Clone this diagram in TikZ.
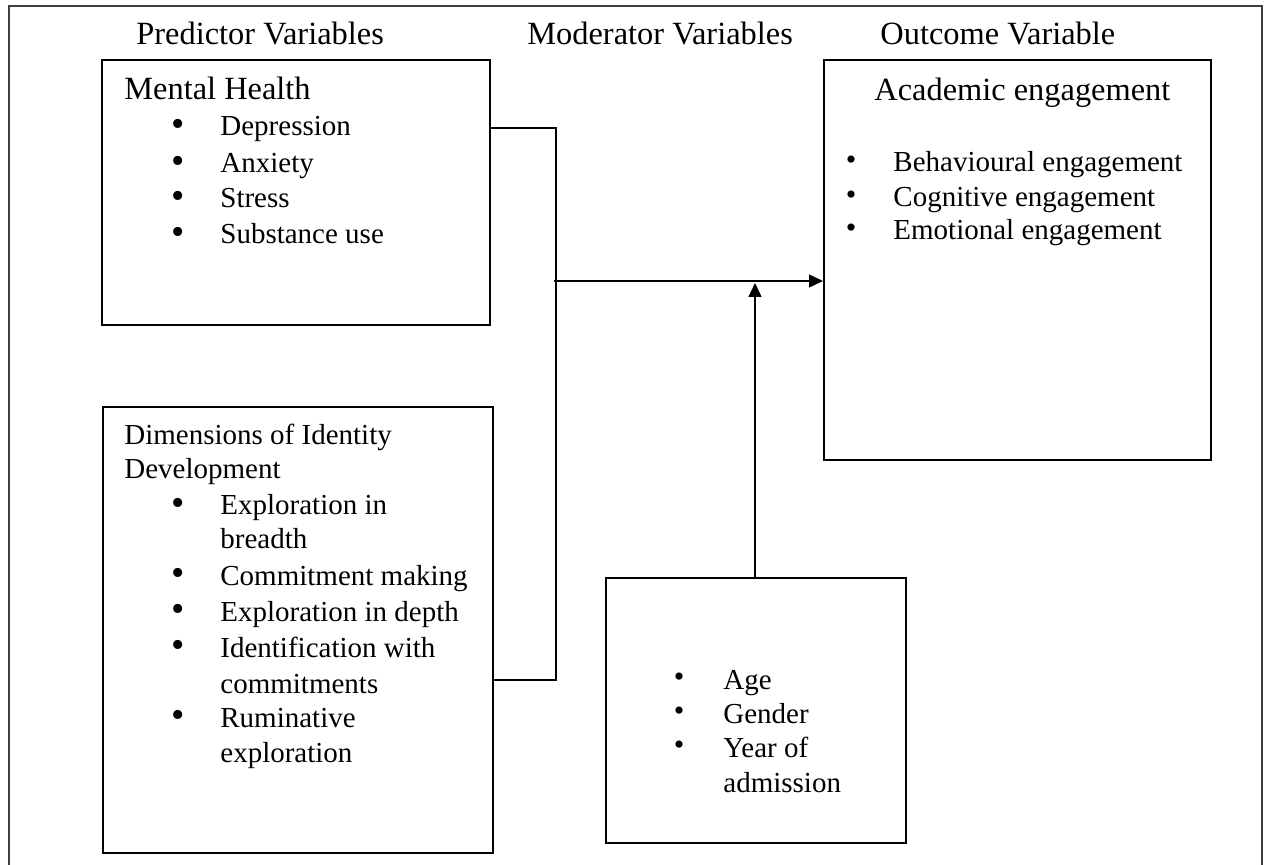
\documentclass[tikz,border=0pt]{standalone}
\usepackage{fontspec}
\setmainfont{Liberation Serif}
\usetikzlibrary{arrows.meta}
\begin{document}
\begin{tikzpicture}[x=0.5pt,y=-0.5pt,
  head/.style={anchor=base west,inner sep=0pt,font=\fontsize{16.2}{18}\selectfont},
  txt/.style={anchor=base west,inner sep=0pt,font=\fontsize{14.5}{17}\selectfont},
  bigbul/.style={anchor=center,inner sep=0pt,font=\fontsize{19}{20}\selectfont},
  smallbul/.style={anchor=center,inner sep=0pt,font=\fontsize{15}{16}\selectfont},
  box/.style={draw,line width=1pt,inner sep=0pt},
  conn/.style={line width=0.7pt},
  arr/.style={line width=0.7pt,-{Triangle[length=7pt,width=6.5pt]}}]
\useasboundingbox (0,0) rectangle (1268,865);
\draw[line width=0.8pt,black!75] (9,865) -- (9,6) -- (1262,6) -- (1262,865);
% headings
\node[head] (hpred) at (136,45) {Predictor Variables};
\node[head] (hmod) at (527,45) {Moderator Variables};
\node[head] (hout) at (880,45) {Outcome Variable};
% boxes
\node[box,minimum width=194pt,minimum height=132.5pt] (mh) at (296,192.5) {};
\node[box,minimum width=195pt,minimum height=223pt] (id) at (298,630) {};
\node[box,minimum width=193.5pt,minimum height=200pt] (ae) at (1017.5,260) {};
\node[box,minimum width=150pt,minimum height=132.5pt] (md) at (756,710.5) {};
% mental health
\node[head] (mht) at (124,100) {Mental Health};
\node[bigbul] (mb1) at (178,128) {\textbullet};
\node[txt] (m1) at (220,136) {Depression};
\node[bigbul] (mb2) at (178,165) {\textbullet};
\node[txt] (m2) at (220,173) {Anxiety};
\node[bigbul] (mb3) at (178,200) {\textbullet};
\node[txt] (m3) at (220,208) {Stress};
\node[bigbul] (mb4) at (178,236) {\textbullet};
\node[txt] (m4) at (220,244) {Substance use};
% identity
\node[txt] (idt1) at (124,445) {Dimensions of Identity};
\node[txt] (idt2) at (124,479) {Development};
\node[bigbul] (ib1) at (178,507) {\textbullet};
\node[txt] (i1a) at (220,515) {Exploration in};
\node[txt] (i1b) at (220,548) {breadth};
\node[bigbul] (ib2) at (178,577) {\textbullet};
\node[txt] (i2) at (220,585) {Commitment making};
\node[bigbul] (ib3) at (178,613) {\textbullet};
\node[txt] (i3) at (220,621) {Exploration in depth};
\node[bigbul] (ib4) at (178,649) {\textbullet};
\node[txt] (i4a) at (220,657) {Identification with};
\node[txt] (i4b) at (220,693) {commitments};
\node[bigbul] (ib5) at (178,719) {\textbullet};
\node[txt] (i5a) at (220,727) {Ruminative};
\node[txt] (i5b) at (220,762) {exploration};
% academic engagement
\node[head] (aet) at (874,101) {Academic engagement};
\node[smallbul] (ab1) at (851,163) {\textbullet};
\node[txt] (a1) at (893,172) {Behavioural engagement};
\node[smallbul] (ab2) at (851,198) {\textbullet};
\node[txt] (a2) at (893,207) {Cognitive engagement};
\node[smallbul] (ab3) at (851,231) {\textbullet};
\node[txt] (a3) at (893,240) {Emotional engagement};
% moderator
\node[smallbul] (db1) at (679,680) {\textbullet};
\node[txt] (d1) at (723,689) {Age};
\node[smallbul] (db2) at (679,714) {\textbullet};
\node[txt] (d2) at (723,723) {Gender};
\node[smallbul] (db3) at (679,748) {\textbullet};
\node[txt] (d3a) at (723,757) {Year of};
\node[txt] (d3b) at (723,792) {admission};
% connectors
\coordinate (jt) at (556,128);
\coordinate (jb) at (556,680);
\coordinate (jm) at (554,281);
\coordinate (jv) at (755,283);
\draw[conn] (mh.east |- jt) -- (jt) -- (jb) -- (id.east |- jb);
\draw[arr] (jm) -- (ae.west |- jm);
\draw[arr] (md.north -| jv) -- (jv);
\end{tikzpicture}
\end{document}
